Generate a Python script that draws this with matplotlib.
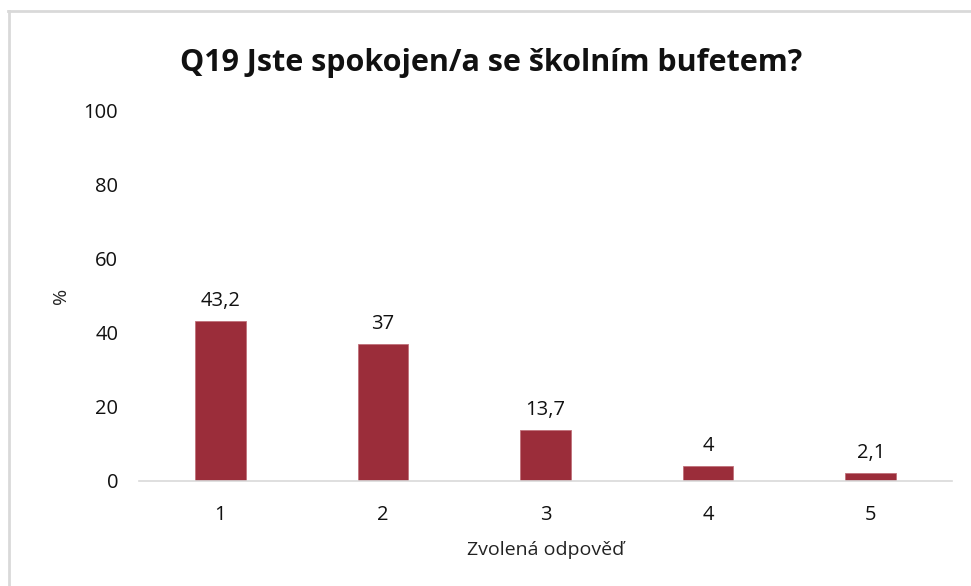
import matplotlib.pyplot as plt
from matplotlib.lines import Line2D

plt.rcParams["font.family"] = ["Open Sans", "DejaVu Sans"]

categories = ["1", "2", "3", "4", "5"]
values = [43.2, 37, 13.7, 4, 2.1]
labels = ["43,2", "37", "13,7", "4", "2,1"]
yticks = [0, 20, 40, 60, 80, 100]

fig = plt.figure(figsize=(9.71, 5.86), dpi=100)
ax = fig.add_axes([139/971, 1-481/586, (952-139)/971, (481-110)/586])

x = range(len(categories))
bars = ax.bar(x, values, width=0.31, color="#9B2D3A", edgecolor="#C0707A", linewidth=0.6)
for xi, v, lab in zip(x, values, labels):
    ax.annotate(lab, (xi, v), xytext=(0, 7), textcoords="offset points",
                ha="center", va="bottom", fontsize=14.5, color="#111111")

ax.set_xlim(-0.5, len(categories) - 0.5)
ax.set_ylim(0, 100)
ax.set_yticks(yticks)
ax.set_xticks(list(x))
ax.set_xticklabels(categories)
ax.tick_params(axis="y", length=0, pad=15, labelsize=14.5, labelcolor="#111111")
ax.tick_params(axis="x", length=0, pad=17, labelsize=14.5, labelcolor="#111111")
for s in ["top", "right", "left"]:
    ax.spines[s].set_visible(False)
ax.spines["bottom"].set_color("#D9D9D9")
ax.spines["bottom"].set_linewidth(1.2)

ax.set_ylabel("%", fontsize=14, color="#222222", labelpad=10)
ax.set_xlabel("Zvolená odpověď", fontsize=14, color="#222222", labelpad=12)

fig.text(491/971, 1-63/586, "Q19 Jste spokojen/a se školním bufetem?",
         ha="center", va="center", fontsize=22, fontweight="bold", color="#111111")

# chart frame (top and left edges visible)
fig.add_artist(Line2D([8/971, 1], [1-11/586, 1-11/586], color="#D9D9D9", lw=2, transform=fig.transFigure))
fig.add_artist(Line2D([9/971, 9/971], [0, 1-11/586], color="#D9D9D9", lw=2, transform=fig.transFigure))

plt.savefig("out.png", dpi=100)
